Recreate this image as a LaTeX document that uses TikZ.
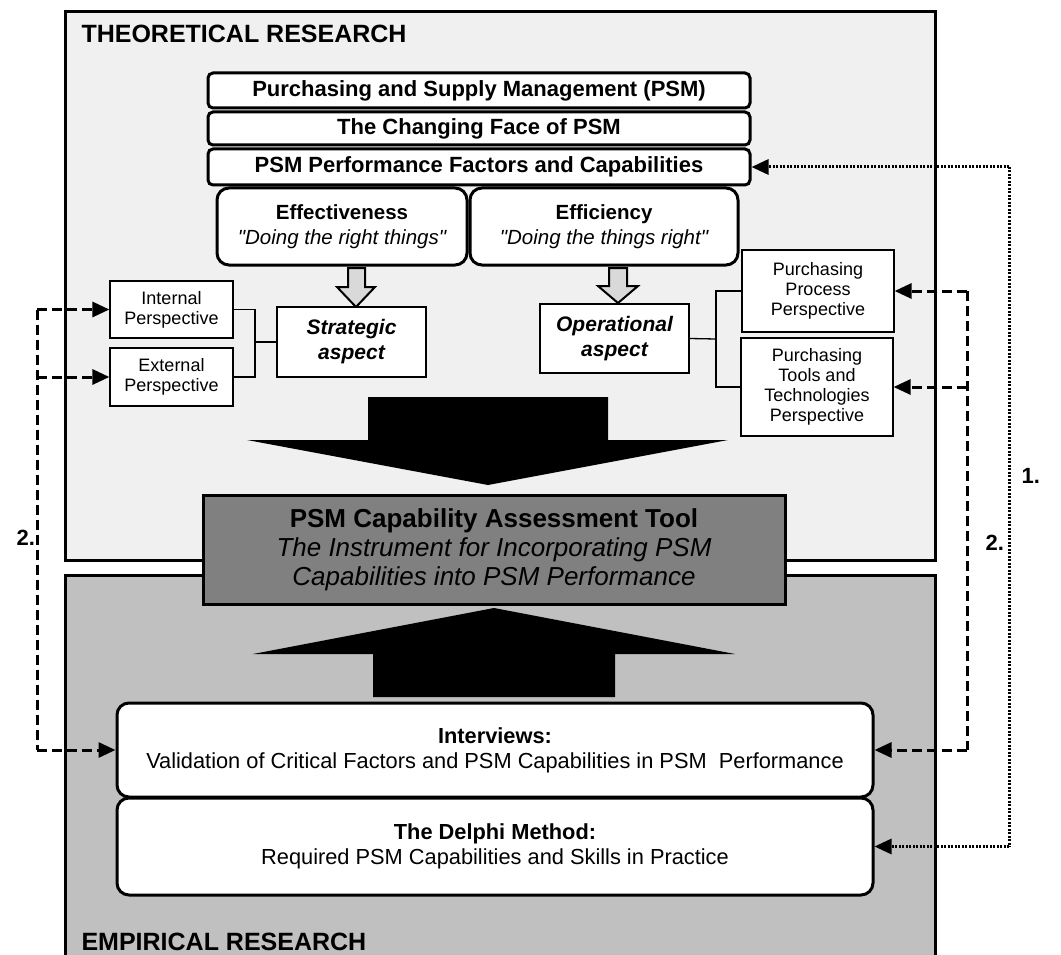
\documentclass[tikz,border=0pt]{standalone}
\usepackage{fontspec}
\setmainfont{Liberation Sans}
\usetikzlibrary{arrows.meta,calc}

\definecolor{theofill}{HTML}{F0F0F0}
\definecolor{empfill}{HTML}{C0C0C0}
\definecolor{toolfill}{HTML}{808080}
\definecolor{hintfill}{HTML}{D9D9D9}

\newcommand{\setfs}[2]{\fontsize{#1}{#2}\selectfont}
% straight double quote, set in a font loaded without the TeX text mapping
\font\quoteit="Liberation Sans/I" at 20.5pt
\newcommand{\sq}{{\quoteit"}}

\tikzset{
  region/.style={draw, line width=3pt},
  bar/.style={draw, line width=3pt, fill=white, rounded corners=5pt,
    minimum width=542pt, inner sep=0pt, font=\bfseries\setfs{22}{26}},
  pillar/.style={draw, line width=3pt, fill=white, rounded corners=12pt,
    minimum height=77pt, inner sep=0pt, align=center, font=\setfs{20.5}{25}},
  aspect/.style={draw, line width=1.5pt, fill=white, inner sep=0pt,
    minimum width=149pt, align=center, font=\bfseries\itshape\setfs{21}{25}},
  persp/.style={draw, line width=1.2pt, fill=white, inner sep=0pt,
    align=center, font=\setfs{18}{20}},
  method/.style={draw, line width=3pt, fill=white, rounded corners=12pt,
    minimum width=756pt, inner sep=0pt, align=center, font=\setfs{21.8}{25}},
  toolbox/.style={draw, line width=3pt, fill=toolfill, minimum width=582pt,
    minimum height=109pt, inner sep=0pt, align=center, font=\setfs{26}{29}},
  hint/.style={draw, line width=2pt, fill=hintfill, line join=miter},
  tree/.style={line width=1.3pt},
  loopb/.style={line width=3pt, dash pattern=on 10pt off 5pt},
  loopa/.style={line width=3pt, dash pattern=on 2pt off 1.5pt},
  tip/.style={-{Triangle[length=17pt,width=15pt]}},
  heading/.style={anchor=base west, font=\bfseries\setfs{25}{28}},
  loopnum/.style={anchor=base west, font=\bfseries\setfs{22}{26}},
}

\begin{document}
\begin{tikzpicture}[x=1pt,y=-1pt]
\useasboundingbox (0,0) rectangle (1061,955);

% the two research areas
\filldraw[region, fill=theofill] (65,12) rectangle (935,560);
\fill[empfill] (65,575) rectangle (935,965);
\draw[region] (65,965) -- (65,575) -- (935,575) -- (935,965);
\node[heading] (theolabel) at (78,43) {THEORETICAL RESEARCH};
\node[heading] (emplabel) at (78,950) {EMPIRICAL RESEARCH};

% big block arrows towards the assessment tool
\fill (368,397) -- (608,397) -- (608,440) -- (728,440) -- (488,485)
      -- (247,440) -- (368,440) -- cycle;
\fill (373,697) -- (615,697) -- (615,654) -- (735,654) -- (494,608)
      -- (253,654) -- (373,654) -- cycle;

% theory stack
\node[bar, minimum height=35pt] (psm) at (479,90.5) {Purchasing and Supply Management (PSM)};
\node[bar, minimum height=33pt] (face) at (479,128.5) {The Changing Face of PSM};
\node[bar, minimum height=36pt] (perf) at (479,167) {PSM Performance Factors and Capabilities};

\node[pillar, minimum width=250pt] (eff) at (342,226.5)
  {{\bfseries Effectiveness}\\{\itshape\sq Doing the right things\sq}};
\node[pillar, minimum width=268pt] (effi) at (604,226.5)
  {{\bfseries Efficiency}\\{\itshape\sq Doing the things right\sq}};

% small grey arrows into the two aspects
\draw[hint] (348,268) -- (365,268) -- (365,287) -- (375,287) -- (356,307)
      -- (337,287) -- (348,287) -- cycle;
\draw[hint] (609,268) -- (627,268) -- (627,286) -- (638,286) -- (618,303)
      -- (598,286) -- (609,286) -- cycle;

\node[aspect, minimum height=70pt] (strat) at (351.5,342) {Strategic\\aspect};
\node[aspect, minimum height=69pt] (oper) at (614.5,338.5) {Operational\\aspect};

\node[persp, minimum width=123pt, minimum height=57pt] (intp) at (171.5,309.5) {Internal\\Perspective};
\node[persp, minimum width=123pt, minimum height=58pt] (extp) at (171.5,377) {External\\Perspective};
\node[persp, minimum width=152pt, minimum height=82pt] (proc) at (818,291) {Purchasing\\Process\\Perspective};
\node[persp, minimum width=152pt, minimum height=98pt] (tools) at (817,387) {Purchasing\\Tools and\\Technologies\\Perspective};

% brackets joining perspectives to their aspect
\coordinate (sj) at (255,342);
\draw[tree] (intp.east) -| (sj) |- (extp.east);
\draw[tree] (sj) -- (strat.west);
\coordinate (oj) at (716,339);
\draw[tree] (oper.east) -- (oj);
\draw[tree] (proc.west) -| (oj) |- (tools.west);

% assessment tool
\node[toolbox] (tool) at (494,549.5)
  {{\bfseries PSM Capability Assessment Tool}\\
   {\itshape The Instrument for Incorporating PSM}\\
   {\itshape Capabilities into PSM Performance}};

% empirical methods
\node[method, minimum height=94pt] (intv) at (495,750)
  {{\bfseries Interviews:}\\Validation of Critical Factors and PSM Capabilities in PSM\ \ Performance};
\node[method, minimum height=97pt] (delphi) at (495,846.5)
  {{\bfseries The Delphi Method:}\\Required PSM Capabilities and Skills in Practice};

% loop 2 (dashed): left side
\coordinate (lt) at (37,309.5);
\coordinate (lb) at (37,750);
\draw[loopb] (lt) -- (lb);
\draw[loopb, tip] (lt) -- (intp.west);
\draw[loopb, tip] (lt |- extp.west) -- (extp.west);
\draw[loopb, tip] (lb) -- (intv.west);
\node[loopnum] (two left) at (13,545) {2.};

% loop 2 (dashed): right side
\coordinate (rt) at (967,291);
\coordinate (rb) at (967,750);
\draw[loopb] (rt) -- (rb);
\draw[loopb, tip] (rt) -- (proc.east);
\draw[loopb, tip] (rt |- tools.east) -- (tools.east);
\draw[loopb, tip] (rb) -- (intv.east);
\node[loopnum] (two right) at (982,550) {2.};

% loop 1 (dotted)
\coordinate (dt) at (1009,167);
\coordinate (db) at (1009,846.5);
\draw[loopa] (dt) -- (db);
\draw[loopa, tip] (dt) -- (perf.east);
\draw[loopa, tip] (db) -- (delphi.east);
\node[loopnum] (one) at (1018,483) {1.};
\end{tikzpicture}
\end{document}
